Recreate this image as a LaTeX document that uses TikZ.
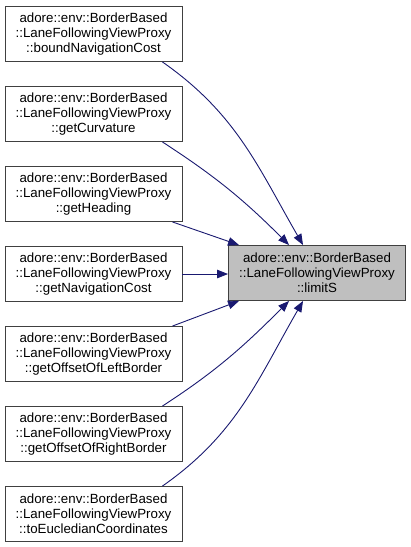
\documentclass[tikz,border=0pt]{standalone}
\usepackage{fontspec}
\setmainfont{Liberation Sans}
\usepackage{xcolor}
\usetikzlibrary{arrows.meta,positioning}
\definecolor{edge}{HTML}{191970}
\definecolor{frame}{HTML}{404040}
\definecolor{hilite}{HTML}{BFBFBF}

\begin{document}
\begin{tikzpicture}[x=1pt,y=1pt,
  fn/.style={draw=frame,line width=0.9pt,fill=white,minimum width=177pt,minimum height=55pt,
    inner sep=0pt,align=center,font=\fontsize{13.3}{15}\selectfont},
  call/.style={draw=edge,line width=0.9pt,-{Triangle[length=11pt,width=8.5pt]}}]
  \useasboundingbox (0,0) rectangle (411,-547);
  \node[fn,fill=hilite] (lims) at (317,-273)
     {adore::env::BorderBased\\::LaneFollowingViewProxy\\::limitS};
  \foreach \n/\f in {1/boundNavigationCost,2/getCurvature,3/getHeading,4/getNavigationCost,
                     5/getOffsetOfLeftBorder,6/getOffsetOfRightBorder,7/toEucledianCoordinates}{
    \node[fn] (c\n) at (93.5,{-34-80*(\n-1)})
       {adore::env::BorderBased\\::LaneFollowingViewProxy\\::\f};}
  % callers above
  \draw[call] ([xshift=-20]c1.south east) to[out=-35,in=120] ([xshift=75]lims.north west);
  \draw[call] ([xshift=-20]c2.south east) to[out=-33,in=135] ([xshift=61]lims.north west);
  \draw[call] ([xshift=-10]c3.south east) -- ([xshift=11]lims.north west);
  \draw[call] (c4.east) -- (c4.east -| lims.west);
  % callers below
  \draw[call] ([xshift=-10]c5.north east) -- ([xshift=11]lims.south west);
  \draw[call] ([xshift=-20]c6.north east) to[out=33,in=-135] ([xshift=61]lims.south west);
  \draw[call] ([xshift=-20]c7.north east) to[out=35,in=-120] ([xshift=75]lims.south west);
\end{tikzpicture}
\end{document}
